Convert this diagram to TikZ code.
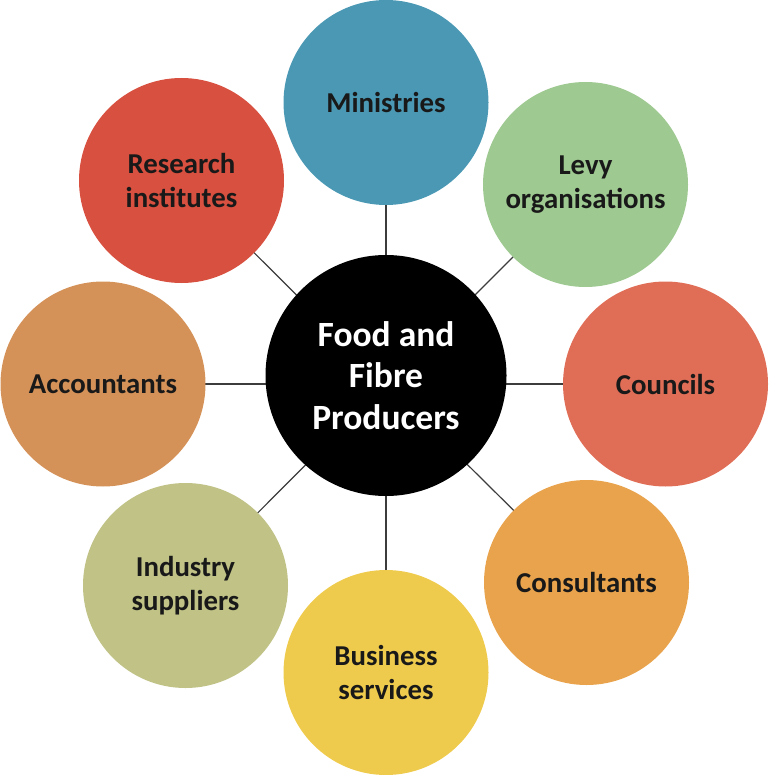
\documentclass[tikz,border=0pt]{standalone}
\usepackage{fontspec}
\setmainfont{Carlito}
\usetikzlibrary{backgrounds}
\definecolor{cMin}{RGB}{74,152,180}
\definecolor{cLevy}{RGB}{158,201,144}
\definecolor{cCoun}{RGB}{224,110,87}
\definecolor{cCons}{RGB}{232,163,76}
\definecolor{cBus}{RGB}{239,203,77}
\definecolor{cInd}{RGB}{192,194,134}
\definecolor{cAcc}{RGB}{212,146,89}
\definecolor{cRes}{RGB}{216,80,63}
\definecolor{cLine}{RGB}{60,60,60}
\tikzset{
  outer/.style={circle, draw=none, inner sep=0pt, minimum size=205pt, align=center,
    font=\fontsize{28.8}{33.6}\selectfont\bfseries, text=black!90},
  hub/.style={circle, fill=black, inner sep=0pt, minimum size=241pt, align=center,
    font=\fontsize{35.5}{41.5}\selectfont\bfseries, text=white},
  link/.style={draw=cLine, line width=1.2pt}
}
\begin{document}
\begin{tikzpicture}[x=1pt,y=-1pt]
\useasboundingbox (0,0) rectangle (768,775);
\coordinate (hubc) at (386,384);
\node[hub] (c) at (386,375.5) {Food and\\Fibre\\Producers};
\node[outer, fill=cMin]  (min)  at (386,102.5) {Ministries};
\node[outer, fill=cLevy] (levy) at (585.5,184.5) {Levy\\organisations};
\node[outer, fill=cCoun] (coun) at (665.5,384)   {Councils};
\node[outer, fill=cCons] (cons) at (586.5,582.5) {Consultants};
\node[outer, fill=cBus]  (bus)  at (386,672.5) {Business\\services};
\node[outer, fill=cInd]  (ind)  at (185.5,585.5) {Industry\\suppliers};
\node[outer, fill=cAcc]  (acc)  at (103,384)   {Accountants};
\node[outer, fill=cRes]  (res)  at (181.5,180.5) {Research\\institutes};
\begin{scope}[on background layer]
\foreach \n in {min,levy,coun,cons,bus,ind,acc,res}
  \draw[link] (hubc) -- (\n.center);
\end{scope}
\end{tikzpicture}
\end{document}
